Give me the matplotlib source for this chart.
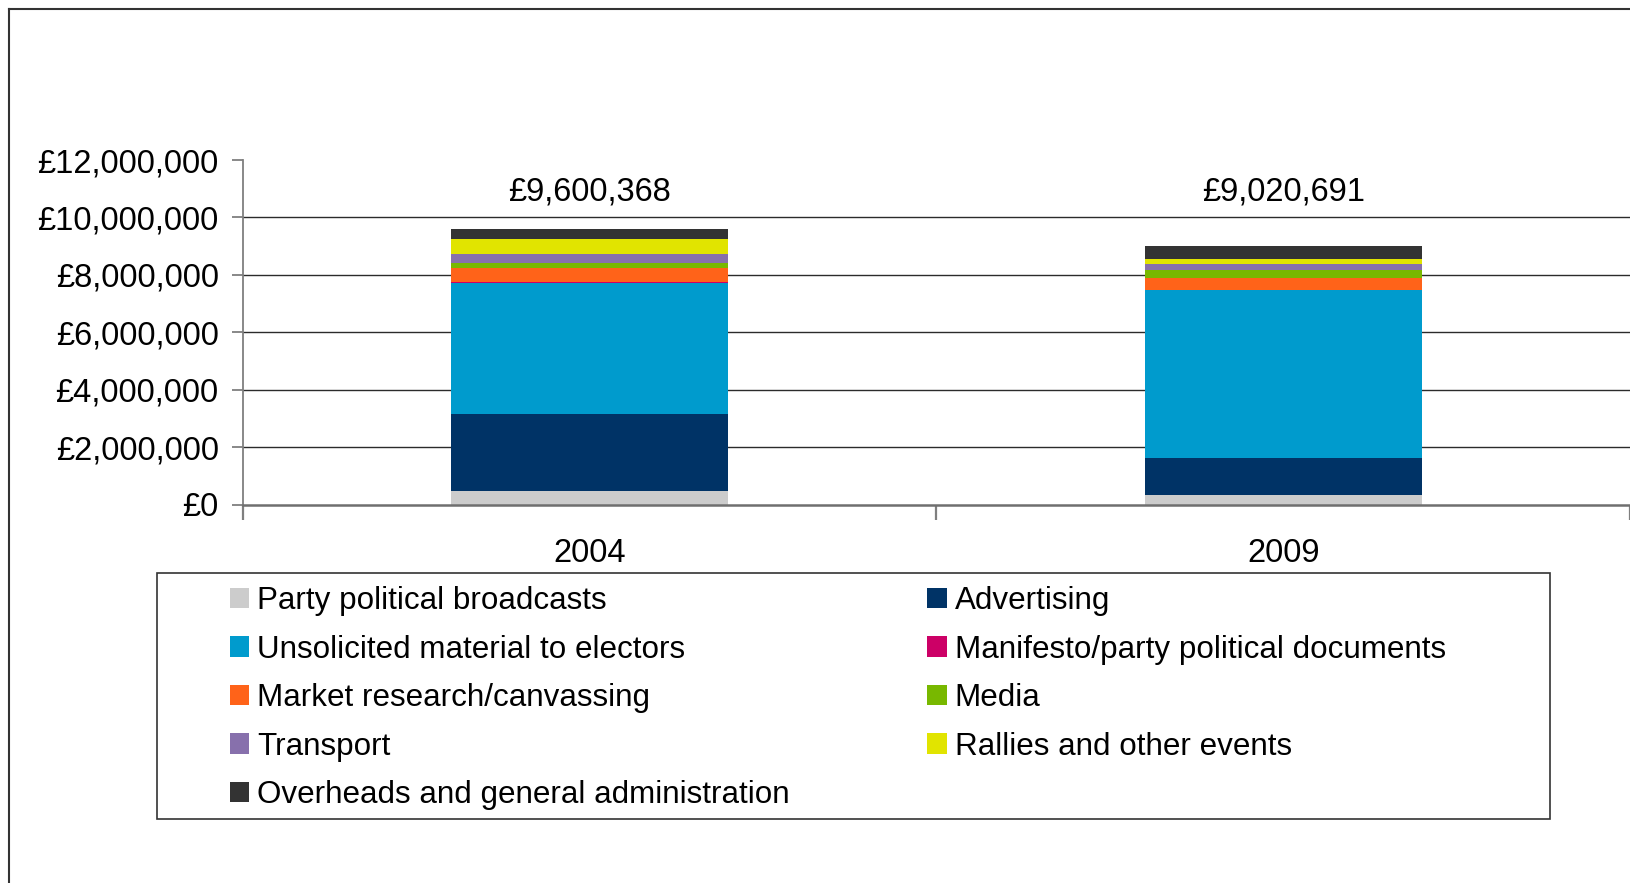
import matplotlib
matplotlib.use("Agg")
import matplotlib.pyplot as plt
from matplotlib.patches import Patch, Rectangle
from matplotlib.lines import Line2D
from matplotlib.ticker import FuncFormatter

plt.rcParams['font.family'] = ['Liberation Sans', 'DejaVu Sans']

# Campaign spending by category (GBP)
years = ["2004", "2009"]
categories = [
    "Party political broadcasts",
    "Advertising",
    "Unsolicited material to electors",
    "Manifesto/party political documents",
    "Market research/canvassing",
    "Media",
    "Transport",
    "Rallies and other events",
    "Overheads and general administration",
]
party_broadcasts = [470000, 330000]
advertising = [2680000, 1290000]
unsolicited = [4560000, 5850000]
manifesto = [45000, 0]
market_research = [477000, 418000]
media = [164000, 279000]
transport = [324000, 209000]
rallies = [522000, 174000]
overheads = [358368, 470691]
totals = [9600368, 9020691]
y_ticks = [0, 2000000, 4000000, 6000000, 8000000, 10000000, 12000000]

series = [party_broadcasts, advertising, unsolicited, manifesto, market_research,
          media, transport, rallies, overheads]
colors = ["#CCCCCC", "#003366", "#009BCD", "#CC0066", "#FF6319",
          "#78B800", "#8770AC", "#E1E400", "#333333"]

W, H = 1631, 883
fig = plt.figure(figsize=(W / 100, H / 100), dpi=100)

# plot area in pixel coordinates
left, right, bottom, top = 243, 1630, 504.5, 160
ax = fig.add_axes([left / W, 1 - bottom / H, (right - left) / W, (bottom - top) / H])

FS = 23.5
LFS = 22.6
xpos = list(range(len(years)))
base = [0] * len(years)
handles = []
for vals, col, name in zip(series, colors, categories):
    ax.bar(xpos, vals, width=0.4, bottom=base, color=col, zorder=3, linewidth=0)
    base = [b + v for b, v in zip(base, vals)]
    handles.append(Patch(facecolor=col, edgecolor='none', label=name))

for x, t in zip(xpos, totals):
    ax.text(x, 10.9e6, f"£{t:,}", ha='center', va='center', fontsize=FS, color='black')

ax.set_xlim(-0.5, 1.5)
ax.set_ylim(0, 12000000)
ax.set_yticks(y_ticks)
ax.yaxis.set_major_formatter(FuncFormatter(lambda v, p: f"£{v:,.0f}"))
ax.tick_params(axis='y', length=8, width=1.3, color='#7f7f7f', pad=9.5, labelsize=FS)

# category boundaries carry the ticks, names sit at the centres
ax.set_xticks([-0.5, 0.5, 1.5])
ax.set_xticklabels([])
ax.set_xticks(xpos, minor=True)
ax.set_xticklabels(years, minor=True)
ax.tick_params(axis='x', which='major', length=11, width=1.6, color='#7f7f7f')
ax.tick_params(axis='x', which='minor', length=0, pad=24, labelsize=FS)

for v in y_ticks[1:-1]:
    ax.axhline(v, color='#2b2b2b', lw=1.0, zorder=1)

for s in ['top', 'right']:
    ax.spines[s].set_visible(False)
ax.spines['left'].set_color('#7f7f7f')
ax.spines['left'].set_linewidth(1.3)
ax.spines['bottom'].set_color('#6f6f6f')
ax.spines['bottom'].set_linewidth(1.8)
ax.spines['bottom'].set_zorder(4)

# legend in row-major order across two columns
order = [0, 2, 4, 6, 8, 1, 3, 5, 7]
leg = fig.legend([handles[i] for i in order], [categories[i] for i in order],
                 ncol=2, loc='upper left', bbox_to_anchor=(230 / W, 1 - 586 / H),
                 frameon=False, fontsize=LFS, borderpad=0, borderaxespad=0,
                 handlelength=0.61, handleheight=0.61, handletextpad=0.26,
                 labelspacing=0.59, columnspacing=4.38)

# legend frame
fig.add_artist(Rectangle((157 / W, 1 - 819 / H), (1550 - 157) / W, (819 - 573) / H,
                         transform=fig.transFigure, fill=False,
                         edgecolor='#333333', lw=1.2))

# chart area border
fig.add_artist(Line2D([9 / W, 9 / W], [0, 1 - 9 / H], transform=fig.transFigure,
                      color='#333333', lw=1.5))
fig.add_artist(Line2D([9 / W, 1], [1 - 9 / H, 1 - 9 / H], transform=fig.transFigure,
                      color='#333333', lw=1.5))

fig.savefig("out.png", dpi=100, facecolor='white')
